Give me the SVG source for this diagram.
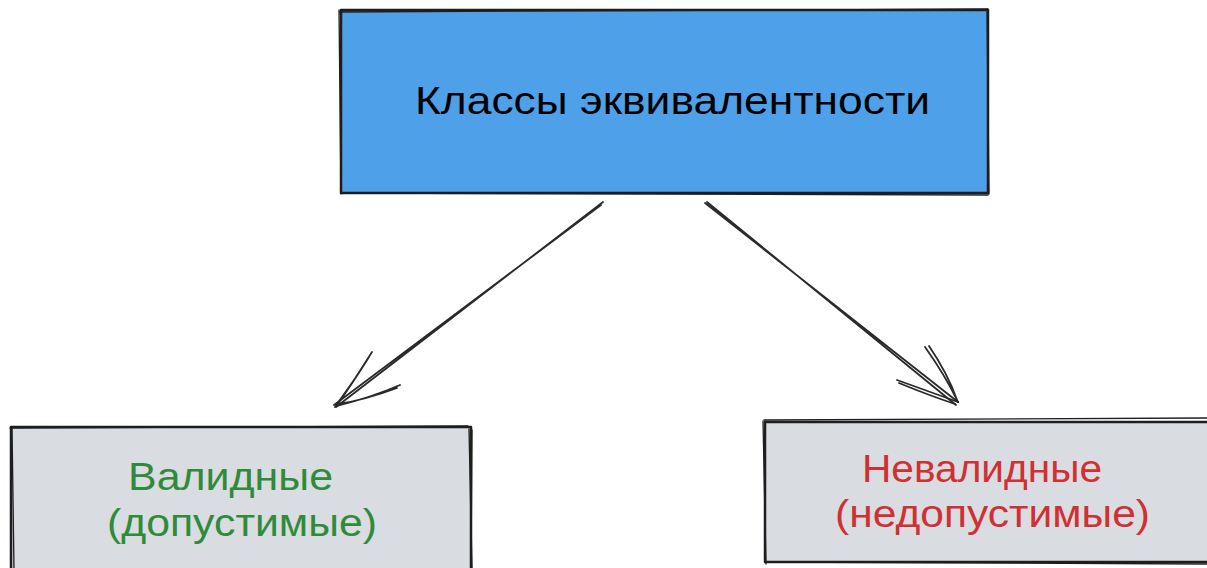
<svg xmlns="http://www.w3.org/2000/svg" width="1207" height="568" viewBox="0 0 1207 568">
<style>
.box{stroke:#1e1e1e;stroke-width:2.5;stroke-linejoin:round}
.sk{fill:none;stroke:#1e1e1e;stroke-width:1.3;stroke-linecap:round}
.ln{fill:none;stroke:#2a2a2a;stroke-width:1.8;stroke-linecap:round}
.t{font-family:"Liberation Sans","DejaVu Sans",sans-serif;font-size:38px}
</style>
<rect width="1207" height="568" fill="#ffffff"/>
<g id="top">
<rect class="box" x="341" y="10" width="647" height="183" fill="#4ea1e8"/>
<path class="sk" d="M340 12 L988 9 M343 193 L988 195 M339 10 L341 194 M987 9 L989 194"/>
<text class="t" x="415" y="114" textLength="515" lengthAdjust="spacingAndGlyphs" fill="#000">Классы эквивалентности</text>
</g>
<g id="valid">
<rect class="box" x="11" y="427" width="460" height="145" fill="#d9dce1"/>
<path class="sk" d="M10 428 L468 426 M12 427 L14 570 M469 429 L472 568 M472 430 L471 568"/>
<text class="t" x="128" y="490" textLength="205" lengthAdjust="spacingAndGlyphs" fill="#2f8b3a">Валидные</text>
<text class="t" x="107" y="536" textLength="270" lengthAdjust="spacingAndGlyphs" fill="#2f8b3a">(допустимые)</text>
</g>
<g id="invalid">
<rect class="box" x="765" y="422" width="450" height="140" fill="#d9dce1"/>
<path class="sk" d="M764 420 L1207 418 M763 421 L766 564 M766 562 L1207 564"/>
<text class="t" x="862" y="482" textLength="240" lengthAdjust="spacingAndGlyphs" fill="#d03031">Невалидные</text>
<text class="t" x="835" y="527" textLength="315" lengthAdjust="spacingAndGlyphs" fill="#d03031">(недопустимые)</text>
</g>
<g id="connectors">
<path class="ln" d="M603 202 L336 407 M601 205 L334 405"/>
<path class="ln" d="M372 352 Q355 380 335 407 M369 357 Q352 384 337 405"/>
<path class="ln" d="M400 385 Q370 398 336 406 M397 388 Q365 400 338 404"/>
<path class="ln" d="M705 203 L958 402 M707 202 L956 405"/>
<path class="ln" d="M925 347 Q945 375 958 402 M929 346 Q948 374 957 400"/>
<path class="ln" d="M897 380 Q930 392 958 402 M899 383 Q928 395 955 404"/>
</g>
</svg>
